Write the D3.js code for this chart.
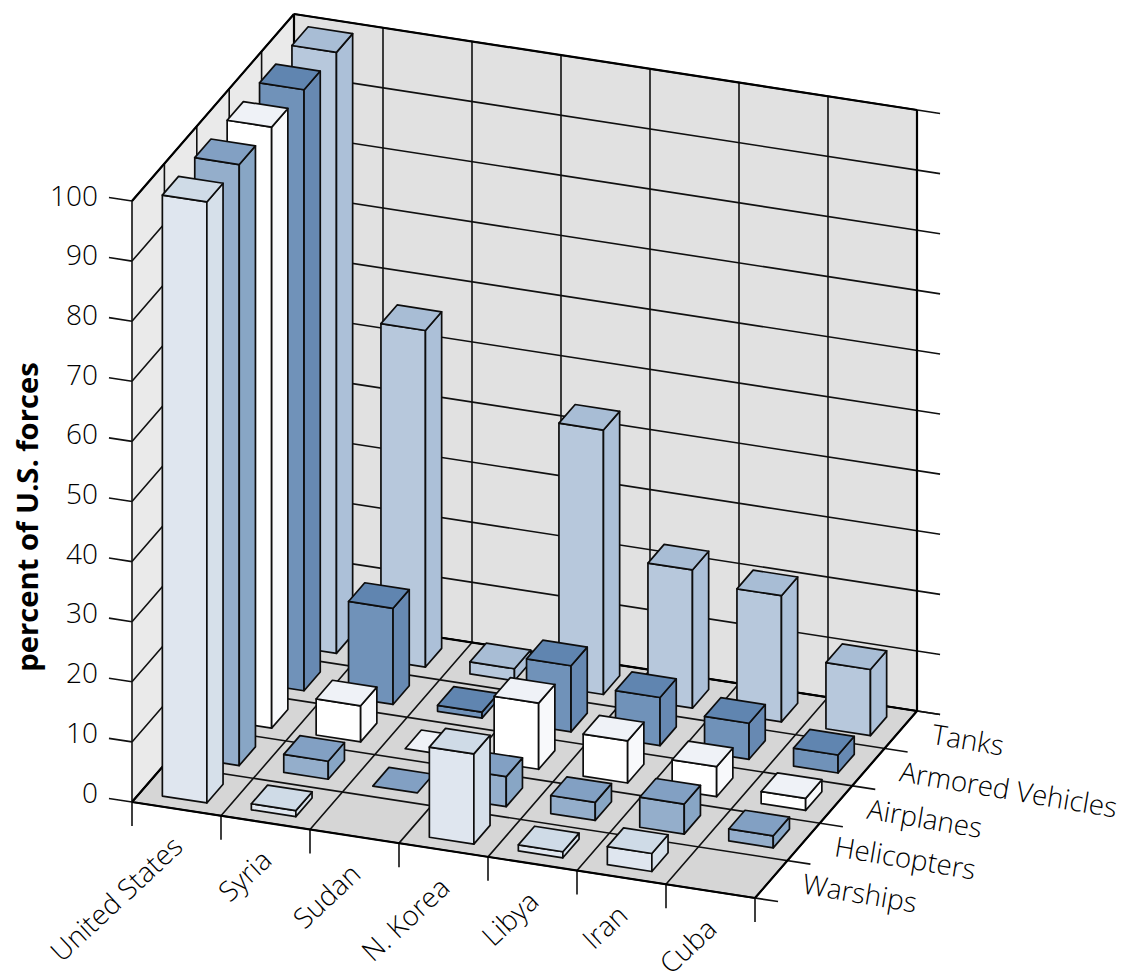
<!DOCTYPE html>
<html>
<head>
<meta charset="utf-8">
<script src="https://cdn.jsdelivr.net/npm/d3@7"></script>
<style>
html, body { margin: 0; padding: 0; background: #fff; overflow: hidden; }
svg { display: block; }
text { font-family: "Open Sans", sans-serif; fill: #000; }
</style>
</head>
<body>
<svg id="chart" width="1129" height="976"></svg>
<script>
const countries = ["United States", "Syria", "Sudan", "N. Korea", "Libya", "Iran", "Cuba"];
const seriesNames = ["Warships", "Helicopters", "Airplanes", "Armored Vehicles", "Tanks"];
const valueTicks = [0, 10, 20, 30, 40, 50, 60, 70, 80, 90, 100];

// null means the country has none of that force, so no mark at all
const warships = [100, 1, null, 15, 1, 3, null];
const helicopters = [100, 3, 0, 5, 3, 5, 2];
const airplanes = [100, 6, 0, 11, 7, 5, 2];
const armoredVehicles = [100, 16, 1, 11, 8, 6, 3];
const tanks = [100, 56, 2, 44, 23, 21, 11];

const seriesValues = [warships, helicopters, airplanes, armoredVehicles, tanks];

// Face colours per series: front, side, top
const faceFront = ["#dfe6ef", "#94aecb", "#ffffff", "#7092b9", "#b7c8dc"];
const faceSide = ["#d6e0ea", "#88a6c5", "#f8f9fb", "#6789b2", "#acc0d8"];
const faceTop = ["#cfdbe7", "#82a0c3", "#eff2f7", "#6085b0", "#a8bdd5"];

// Oblique projection: axes of the box on screen
const origin = [132, 802];
const widthAxis = [623, 96];
const depthAxis = [162, -187];

const xBand = d3.scaleBand().domain(countries).range([0, 1]).paddingInner(0.5).paddingOuter(0.25);
const zBand = d3.scaleBand().domain(seriesNames).range([0, 1]).paddingInner(0.5).paddingOuter(0.25);
const yScale = d3.scaleLinear().domain([0, 100]).range([0, 601]);
const labelY = d3.scaleLinear().domain([0, 100]).range([792.5, 195.5]);

const project = (u, w, v) => [
  origin[0] + u * widthAxis[0] + w * depthAxis[0],
  origin[1] + u * widthAxis[1] + w * depthAxis[1] - yScale(v)
];
const poly = pts => "M" + pts.map(p => p.join(",")).join("L") + "Z";
const seg = (a, b) => "M" + a.join(",") + "L" + b.join(",");

const svg = d3.select("#chart");

// Walls and floor
const walls = svg.append("g");
const yMax = 100;
walls.append("path").attr("d", poly([project(0, 0, 0), project(0, 1, 0), project(0, 1, yMax), project(0, 0, yMax)])).attr("fill", "#eaeaea");
walls.append("path").attr("d", poly([project(0, 1, 0), project(1, 1, 0), project(1, 1, yMax), project(0, 1, yMax)])).attr("fill", "#e1e1e1");
walls.append("path").attr("d", poly([project(0, 0, 0), project(1, 0, 0), project(1, 1, 0), project(0, 1, 0)])).attr("fill", "#d6d6d6");

// Grid lines and outward ticks
const grid = svg.append("g").attr("fill", "none").attr("stroke", "#111").attr("stroke-width", 1.6);
const tickFrac = 0.037;
const uBoundaries = d3.range(countries.length + 1).map(i => i / countries.length);
const wBoundaries = d3.range(seriesNames.length + 1).map(i => i / seriesNames.length);

grid.selectAll(".value-grid").data(valueTicks).join("path")
  .attr("d", v => seg(project(-tickFrac, 0, v), project(0, 0, v)) + seg(project(0, 0, v), project(0, 1, v)) + seg(project(0, 1, v), project(1 + tickFrac, 1, v)));
grid.selectAll(".wall-u").data(uBoundaries).join("path")
  .attr("d", u => seg(project(u, 1, 0), project(u, 1, yMax)));
grid.selectAll(".wall-w").data(wBoundaries).join("path")
  .attr("d", w => seg(project(0, w, 0), project(0, w, yMax)));
grid.selectAll(".floor-u").data(uBoundaries).join("path")
  .attr("d", u => {
    const a = project(u, 0, 0);
    return seg(project(u, 1, 0), a) + seg(a, [a[0], a[1] + 24]);
  });
grid.selectAll(".floor-w").data(wBoundaries).join("path")
  .attr("d", w => seg(project(0, w, 0), project(1 + tickFrac, w, 0)));

// Heavier outer frame of the box
svg.append("path")
  .attr("fill", "none").attr("stroke", "#000").attr("stroke-width", 2.2).attr("stroke-linejoin", "round")
  .attr("d", seg(project(0, 0, yMax), project(0, 1, yMax)) + seg(project(0, 1, yMax), project(1, 1, yMax))
    + seg(project(1, 1, yMax), project(1, 1, 0)) + seg(project(1, 1, 0), project(1, 0, 0))
    + seg(project(1, 0, 0), project(0, 0, 0)) + seg(project(0, 0, 0), project(0, 1, 0))
    + seg(project(0, 1, 0), project(1, 1, 0)) + seg(project(0, 1, 0), project(0, 1, yMax)));

// Bars painted from the back row forward
const barRecords = d3.range(seriesNames.length - 1, -1, -1).flatMap(si =>
  countries.map((c, ci) => ({ c, s: seriesNames[si], si, v: seriesValues[si][ci] })))
  .filter(d => d.v !== null);

const bars = svg.append("g").selectAll("g").data(barRecords).join("g")
  .attr("stroke", "#0d0d0d").attr("stroke-width", 1.7).attr("stroke-linejoin", "round");

const corners = d => {
  const u0 = xBand(d.c), u1 = u0 + xBand.bandwidth();
  const w0 = zBand(d.s), w1 = w0 + zBand.bandwidth();
  return { u0, u1, w0, w1 };
};
bars.filter(d => d.v > 0).append("path")
  .attr("fill", d => faceFront[d.si])
  .attr("d", d => {
    const k = corners(d);
    return poly([project(k.u0, k.w0, 0), project(k.u1, k.w0, 0), project(k.u1, k.w0, d.v), project(k.u0, k.w0, d.v)]);
  });
bars.filter(d => d.v > 0).append("path")
  .attr("fill", d => faceSide[d.si])
  .attr("d", d => {
    const k = corners(d);
    return poly([project(k.u1, k.w0, 0), project(k.u1, k.w1, 0), project(k.u1, k.w1, d.v), project(k.u1, k.w0, d.v)]);
  });
bars.append("path")
  .attr("fill", d => faceTop[d.si])
  .attr("d", d => {
    const k = corners(d);
    return poly([project(k.u0, k.w0, d.v), project(k.u1, k.w0, d.v), project(k.u1, k.w1, d.v), project(k.u0, k.w1, d.v)]);
  });

// Value axis labels
svg.append("g").selectAll("text").data(valueTicks).join("text")
  .attr("x", 98)
  .attr("y", v => labelY(v))
  .attr("dy", "0.36em")
  .attr("text-anchor", "end")
  .attr("font-size", 28)
  .attr("font-weight", 300)
  .text(v => v);

// Axis title
svg.append("text")
  .attr("transform", "translate(37.5,517) rotate(-90)")
  .attr("text-anchor", "middle")
  .attr("font-size", 29.2)
  .attr("font-weight", 700)
  .text("percent of U.S. forces");

// Country labels, rotated below the front edge
svg.append("g").selectAll("text").data(countries).join("text")
  .attr("transform", c => {
    const a = project(xBand(c) + xBand.bandwidth() / 2, 0, 0);
    return `translate(${a[0] + 8},${a[1] + 40}) rotate(-43)`;
  })
  .attr("text-anchor", "end")
  .attr("font-size", 27.8)
  .attr("font-weight", 300)
  .text(c => c);

// Series labels, following the floor edge direction
svg.append("g").selectAll("text").data(seriesNames).join("text")
  .attr("transform", s => {
    const a = project(1, zBand(s) + zBand.bandwidth() / 2, 0);
    return `translate(${a[0] + 30},${a[1] + 14}) rotate(9.6)`;
  })
  .attr("font-size", 27.8)
  .attr("font-weight", 300)
  .text(s => s);
</script>
</body>
</html>
